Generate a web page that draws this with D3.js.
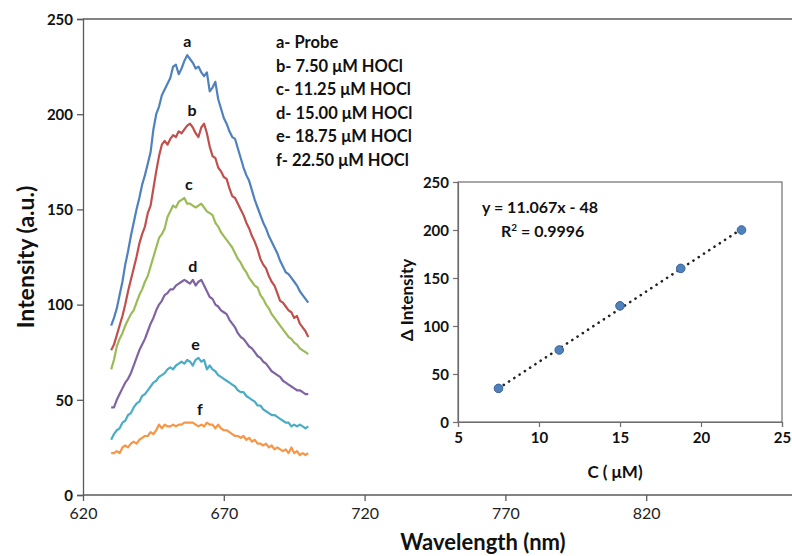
<!DOCTYPE html>
<html>
<head>
<meta charset="utf-8">
<script src="https://cdn.jsdelivr.net/npm/d3@7"></script>
<style>
  body { margin: 0; background: #fff; }
  text { font-family: Lato, "Open Sans", sans-serif; fill: #111; }
</style>
</head>
<body>
<svg id="chart" width="792" height="556"></svg>
<script>
// wavelength grid (nm) of the spectra
var wavelengths = [630,631,632,633,634,635,636,637,638,639,640,641,642,643,644,645,646,647,648,649,
  650,651,652,653,654,655,656,657,658,659,660,661,662,663,664,665,666,667,668,669,
  670,671,672,673,674,675,676,677,678,679,680,681,682,683,684,685,686,687,688,689,
  690,691,692,693,694,695,696,697,698,699,700];

// emission intensities
var probeA = [89,93,98,105,112,121,128,136,143,150,156,163,168,174,180,192,200,204,210,213,
  216,219,225,226,221,224,228,231,229,227,224,225,222,220,222,212,214,217,208,203,
  198,195,191,188,187,182,177,172,168,165,160,155,151,147,143,140,136,133,130,127,
  123,120,117,116,114,112,110,107,105,103,101];
var hoclB = [76,79,84,89,94,100,107,113,119,125,132,137,141,148,152,161,170,178,184,186,
  184,187,189,188,191,190,192,194,195,193,190,188,193,195,190,183,178,177,172,170,
  167,166,161,157,156,153,150,147,143,140,136,133,129,124,121,119,115,112,110,106,
  102,101,99,97,96,93,94,90,88,86,83];
var hoclC = [66,71,78,82,85,89,92,95,97,101,105,108,112,115,120,125,130,135,137,140,
  146,149,152,151,154,155,156,153,153,152,151,152,153,151,149,148,147,143,141,138,
  136,134,132,130,127,124,122,119,117,114,112,110,109,105,103,100,98,95,93,91,
  89,87,85,83,82,80,79,77,76,75,74];
var hoclD = [46,46,50,53,56,59,61,64,68,72,76,79,82,86,90,93,97,100,102,105,
  106,108,108,110,111,112,113,112,111,113,110,112,113,110,107,104,103,100,99,97,
  96,95,92,90,88,85,83,82,80,78,77,75,73,72,70,69,67,65,64,63,
  62,60,59,58,57,56,55,55,54,53,53];
var hoclE = [29,32,34,35,38,39,42,43,46,48,49,52,53,55,57,59,60,62,63,64,
  66,67,66,68,69,70,69,71,70,68,71,72,70,71,66,68,66,65,63,62,
  61,60,59,58,57,55,54,54,52,51,50,49,47,47,45,44,43,42,42,41,
  40,39,38,38,36,37,36,37,36,35,36];
var hoclF = [22,22,23,22,25,26,25,27,28,27,29,30,31,31,33,32,34,37,35,37,
  36,36,37,36,37,37,38,38,38,38,37,36,37,36,38,37,37,35,37,35,
  34,34,33,32,31,31,30,31,29,30,28,29,27,27,26,27,25,26,24,25,
  24,23,24,22,25,22,23,21,22,21,22];

var curveLetters = ["a", "b", "c", "d", "e", "f"];
var curveColors = ["#4F81BD", "#C0504D", "#9BBB59", "#8064A2", "#4BACC6", "#F79646"];
var peakLabelNm = [657, 658.7, 657.6, 659, 660, 661.5];
var legendLabels = ["a- Probe", "b- 7.50 \u03bcM HOCl", "c- 11.25 \u03bcM HOCl",
  "d- 15.00 \u03bcM HOCl", "e- 18.75 \u03bcM HOCl", "f- 22.50 \u03bcM HOCl"];

var xTicks = [620, 670, 720, 770, 820];
var yTicks = [0, 50, 100, 150, 200, 250];

// calibration inset
var concUM = [7.5, 11.25, 15, 18.75, 22.5];
var deltaI = [35, 75, 121, 160, 200];
var fitSlope = 11.067, fitIntercept = -48;
var insetXTicks = [5, 10, 15, 20, 25];
var insetYTicks = [0, 50, 100, 150, 200, 250];

var series = [probeA, hoclB, hoclC, hoclD, hoclE, hoclF];

var svg = d3.select("#chart");
var axisColor = "#5a5a5a";

// ---- main spectra plot ----
var x = d3.scaleLinear().domain([620, 870]).range([83, 787]);
var y = d3.scaleLinear().domain([0, 250]).range([495, 19]);

// plot-area top border
svg.append("line")
  .attr("x1", x(620)).attr("x2", 792)
  .attr("y1", y(250)).attr("y2", y(250))
  .attr("stroke", axisColor).attr("stroke-width", 1.3);

var gx = svg.append("g")
  .attr("transform", "translate(0," + y(0) + ")")
  .call(d3.axisBottom(x).tickValues(xTicks).tickSize(6).tickPadding(7).tickFormat(d3.format("d")));
gx.select(".domain").attr("d", "M" + x(620) + ",0H792");
var gy = svg.append("g")
  .attr("transform", "translate(" + x(620) + ",0)")
  .call(d3.axisLeft(y).tickValues(yTicks).tickSize(6).tickPadding(4));

[gx, gy].forEach(function(g) {
  g.selectAll(".domain").attr("stroke", axisColor).attr("stroke-width", 1.3);
  g.selectAll(".tick line").attr("stroke", axisColor).attr("stroke-width", 1.3);
});
gx.selectAll(".tick text").style("font-size", "16px").style("fill", "#222");
gy.selectAll(".tick text").style("font-size", "15px").style("font-weight", "bold").attr("dy", "0.35em");

var line = d3.line()
  .x(function(d, i) { return x(wavelengths[i]); })
  .y(function(d) { return y(d); });

svg.append("g").selectAll("path")
  .data(series)
  .join("path")
  .attr("d", line)
  .attr("fill", "none")
  .attr("stroke", function(d, i) { return curveColors[i]; })
  .attr("stroke-width", 2.2)
  .attr("stroke-linejoin", "round");

// letters above each peak
svg.append("g").selectAll("text")
  .data(series)
  .join("text")
  .attr("x", function(d, i) { return x(peakLabelNm[i]); })
  .attr("y", function(d) { return y(d3.max(d)) - 8; })
  .attr("text-anchor", "middle")
  .style("font-size", "16px").style("font-weight", "bold")
  .text(function(d, i) { return curveLetters[i]; });

svg.append("g").selectAll("text")
  .data(legendLabels)
  .join("text")
  .attr("x", 276)
  .attr("y", function(d, i) { return 48 + i * 23.6; })
  .style("font-size", "16.5px").style("font-weight", "bold")
  .text(function(d) { return d; });

svg.append("text")
  .attr("transform", "translate(34,257) rotate(-90)")
  .attr("text-anchor", "middle")
  .style("font-size", "23px").style("font-weight", "bold")
  .text("Intensity (a.u.)");

svg.append("text")
  .attr("x", 483).attr("y", 550)
  .attr("text-anchor", "middle")
  .style("font-size", "22px").style("font-weight", "bold")
  .text("Wavelength (nm)");

// ---- inset: calibration line ----
var ix = d3.scaleLinear().domain([5, 25]).range([458, 782]);
var iy = d3.scaleLinear().domain([0, 250]).range([422, 182]);

svg.append("rect")
  .attr("x", ix(5)).attr("y", iy(250))
  .attr("width", ix(25) - ix(5)).attr("height", iy(0) - iy(250))
  .attr("fill", "#fff").attr("stroke", "#6e6e6e").attr("stroke-width", 1.2);

var igx = svg.append("g")
  .attr("transform", "translate(0," + iy(0) + ")")
  .call(d3.axisBottom(ix).tickValues(insetXTicks).tickSize(5).tickPadding(5));
var igy = svg.append("g")
  .attr("transform", "translate(" + ix(5) + ",0)")
  .call(d3.axisLeft(iy).tickValues(insetYTicks).tickSize(5).tickPadding(4));
[igx, igy].forEach(function(g) {
  g.selectAll(".domain").attr("stroke", "#6e6e6e").attr("stroke-width", 1.2);
  g.selectAll(".tick line").attr("stroke", "#6e6e6e").attr("stroke-width", 1.2);
  g.selectAll(".tick text").style("font-size", "15px").style("font-weight", "bold");
});
igy.selectAll(".tick text").attr("dy", "0.35em");

// dotted linear fit
var fitEnds = [d3.min(concUM), d3.max(concUM)];
svg.append("line")
  .attr("x1", ix(fitEnds[0])).attr("y1", iy(fitSlope * fitEnds[0] + fitIntercept))
  .attr("x2", ix(fitEnds[1])).attr("y2", iy(fitSlope * fitEnds[1] + fitIntercept))
  .attr("stroke", "#222").attr("stroke-width", 2.6)
  .attr("stroke-linecap", "round").attr("stroke-dasharray", "0.1 6.2");

svg.append("g").selectAll("circle")
  .data(concUM)
  .join("circle")
  .attr("cx", function(d) { return ix(d); })
  .attr("cy", function(d, i) { return iy(deltaI[i]); })
  .attr("r", 4.3)
  .attr("fill", "#4F81BD").attr("stroke", "#3a639a").attr("stroke-width", 1);

svg.append("text")
  .attr("x", 482).attr("y", 213)
  .style("font-size", "16px").style("font-weight", "bold")
  .text("y = 11.067x  - 48");
var r2 = svg.append("text")
  .attr("x", 501).attr("y", 237)
  .style("font-size", "16px").style("font-weight", "bold");
r2.append("tspan").text("R");
r2.append("tspan").attr("dy", -6).style("font-size", "10px").text("2");
r2.append("tspan").attr("dy", 6).text(" = 0.9996");

svg.append("text")
  .attr("transform", "translate(413,300) rotate(-90)")
  .attr("text-anchor", "middle")
  .style("font-size", "17px").style("font-weight", "bold")
  .text("\u0394 Intensity");

svg.append("text")
  .attr("x", 615).attr("y", 478)
  .attr("text-anchor", "middle")
  .style("font-size", "17px").style("font-weight", "bold")
  .text("C ( \u03bcM)");
</script>
</body>
</html>
